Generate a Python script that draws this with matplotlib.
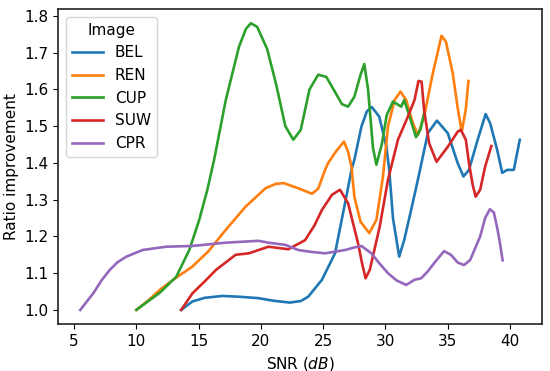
import matplotlib
matplotlib.use("Agg")
import matplotlib.pyplot as plt

# values (SNR in dB, ratio improvement)
bel_snr = [13.6, 14.5, 15.5, 16.9, 18.2, 19.8, 21.0, 22.3, 23.2, 23.8, 24.9, 25.95,
           26.75, 27.27, 27.5, 28.07, 28.5, 28.9, 29.5, 30.07, 30.3, 30.6, 31.1,
           31.5, 32.06, 32.6, 33.4, 34.13, 35.0, 35.8, 36.26, 36.7, 37.4, 38.04,
           38.4, 38.97, 39.37, 39.77, 40.3, 40.78]
bel_ratio = [1.0, 1.023, 1.033, 1.038, 1.036, 1.032, 1.025, 1.02, 1.024, 1.036, 1.082, 1.154,
             1.29, 1.381, 1.408, 1.499, 1.54, 1.552, 1.526, 1.444, 1.381, 1.25, 1.145,
             1.19, 1.272, 1.354, 1.481, 1.515, 1.481, 1.399, 1.363, 1.381, 1.463, 1.533,
             1.508, 1.435, 1.373, 1.381, 1.381, 1.463]

ren_snr = [10.0, 11.0, 11.86, 13.0, 14.5, 15.8, 17.18, 18.77, 20.37, 21.2, 21.83, 23.0,
           24.1, 24.6, 25.15, 25.4, 26.0, 26.67, 27.0, 27.27, 27.5, 28.0, 28.7, 29.27,
           29.8, 30.2, 30.73, 31.2, 31.66, 32.2, 32.6, 33.1, 33.8, 34.5, 34.85, 35.4,
           35.78, 36.12, 36.44, 36.66]
ren_ratio = [1.0, 1.027, 1.054, 1.083, 1.118, 1.16, 1.218, 1.281, 1.331, 1.343, 1.345, 1.331,
             1.316, 1.33, 1.381, 1.4, 1.43, 1.458, 1.43, 1.39, 1.308, 1.24, 1.209, 1.245,
             1.363, 1.499, 1.571, 1.594, 1.571, 1.508, 1.476, 1.526, 1.644, 1.746, 1.73, 1.644,
             1.553, 1.485, 1.544, 1.623]

cup_snr = [10.0, 11.0, 11.86, 13.2, 14.25, 15.05, 15.7, 16.24, 17.18, 18.24, 18.8, 19.2,
           19.7, 20.5, 21.2, 21.96, 22.6, 23.2, 23.9, 24.6, 25.25, 26.0, 26.5, 27.0,
           27.5, 28.0, 28.3, 28.6, 29.0, 29.27, 29.7, 30.1, 30.6, 31.26, 31.5, 31.9,
           32.45, 32.8, 33.1]
cup_ratio = [1.0, 1.025, 1.046, 1.09, 1.163, 1.245, 1.327, 1.408, 1.571, 1.716, 1.765, 1.78,
             1.77, 1.71, 1.617, 1.5, 1.463, 1.49, 1.6, 1.64, 1.634, 1.59, 1.56, 1.553,
             1.58, 1.64, 1.669, 1.6, 1.44, 1.395, 1.45, 1.53, 1.567, 1.553, 1.571, 1.53,
             1.47, 1.49, 1.535]

suw_snr = [13.6, 14.5, 15.5, 16.4, 17.97, 19.04, 20.6, 22.2, 23.55, 24.3, 24.9, 25.7,
           26.35, 27.0, 27.8, 28.1, 28.4, 28.74, 29.54, 30.2, 31.0, 31.8, 32.33, 32.65,
           32.9, 33.1, 33.5, 34.1, 35.0, 35.8, 36.05, 36.45, 36.7, 37.0, 37.24, 37.6,
           38.0, 38.5]
suw_ratio = [1.0, 1.045, 1.078, 1.109, 1.15, 1.154, 1.172, 1.165, 1.19, 1.23, 1.272, 1.313,
             1.327, 1.29, 1.181, 1.13, 1.086, 1.109, 1.227, 1.354, 1.463, 1.526, 1.571, 1.623,
             1.621, 1.544, 1.454, 1.403, 1.444, 1.485, 1.49, 1.463, 1.4, 1.34, 1.308, 1.327,
             1.39, 1.446]

cpr_snr = [5.5, 6.54, 7.2, 7.87, 8.5, 9.2, 10.5, 12.4, 14.5, 17.18, 19.8, 20.6, 21.96,
           23.0, 24.0, 25.15, 26.75, 27.5, 28.07, 28.87, 29.5, 30.2, 30.9, 31.66, 32.33,
           32.86, 33.4, 33.9, 34.7, 35.25, 35.8, 36.3, 36.8, 37.6, 38.0, 38.38, 38.7,
           39.0, 39.2, 39.4]
cpr_ratio = [1.0, 1.045, 1.08, 1.109, 1.13, 1.145, 1.163, 1.172, 1.174, 1.183, 1.188, 1.183,
             1.177, 1.163, 1.158, 1.154, 1.163, 1.17, 1.174, 1.154, 1.127, 1.1, 1.08, 1.068,
             1.082, 1.086, 1.105, 1.127, 1.16, 1.15, 1.129, 1.122, 1.136, 1.2, 1.25, 1.274,
             1.265, 1.218, 1.18, 1.135]

series = [
    ("BEL", bel_snr, bel_ratio),
    ("REN", ren_snr, ren_ratio),
    ("CUP", cup_snr, cup_ratio),
    ("SUW", suw_snr, suw_ratio),
    ("CPR", cpr_snr, cpr_ratio),
]

plt.rcParams["font.size"] = 11

fig, ax = plt.subplots(figsize=(5.5, 3.71), dpi=100)
for name, snr, ratio in series:
    ax.plot(snr, ratio, label=name, linewidth=1.9)

ax.set_xlabel("SNR ($dB$)")
ax.set_ylabel("Ratio improvement")
ax.set_xticks([5, 10, 15, 20, 25, 30, 35, 40])
for sp in ax.spines.values():
    sp.set_linewidth(1.2)
    sp.set_color("#222222")
ax.legend(title="Image", loc="upper left")

fig.subplots_adjust(left=0.106, right=0.985, bottom=0.126, top=0.976)
fig.savefig("out.png", dpi=100)
